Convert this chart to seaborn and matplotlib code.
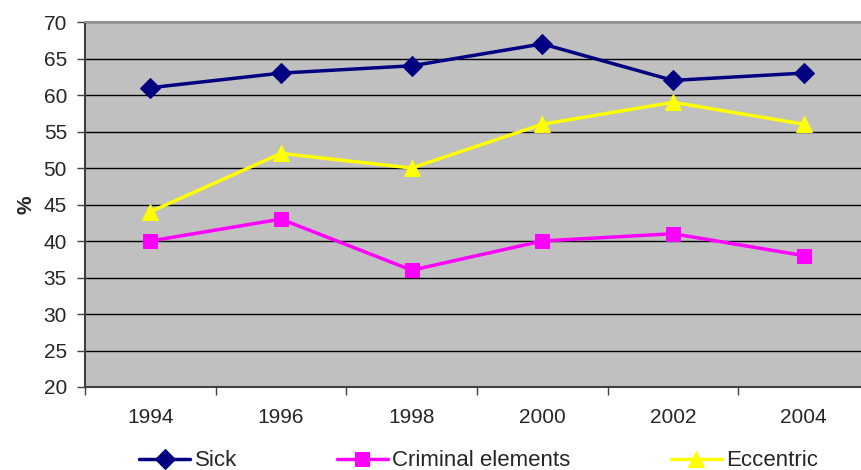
import pandas as pd
import seaborn as sns
import matplotlib.pyplot as plt
from matplotlib.ticker import FixedLocator

years = ["1994", "1996", "1998", "2000", "2002", "2004"]
sick = [61, 63, 64, 67, 62, 63]
criminal = [40, 43, 36, 40, 41, 38]
eccentric = [44, 52, 50, 56, 59, 56]

series_names = ["Sick", "Criminal elements", "Eccentric"]
colors = {"Sick": "#000080", "Criminal elements": "#FF00FF", "Eccentric": "#FFFF00"}
markers = {"Sick": "D", "Criminal elements": "s", "Eccentric": "^"}
msizes = {"Sick": 10, "Criminal elements": 10, "Eccentric": 12}

TICK_FONT = 15
LEGEND_FONT = 16

rows = []
for name, vals in zip(series_names, [sick, criminal, eccentric]):
    for i, v in enumerate(vals):
        rows.append({"pos": i, "value": v, "series": name})
data = pd.DataFrame(rows)

sns.set_style("white")
plt.rcParams["font.family"] = ["Liberation Sans", "DejaVu Sans"]

fig = plt.figure(figsize=(8.61, 4.70), dpi=100)
ax = fig.add_axes([85 / 861, 1 - 387 / 470, 784 / 861, 365 / 470])
ax.set_facecolor("#C0C0C0")

for name in series_names:
    sub = data[data["series"] == name]
    sns.lineplot(x="pos", y="value", data=sub, ax=ax, color=colors[name],
                 marker=markers[name], markersize=msizes[name],
                 markeredgecolor=colors[name], linewidth=2.5, label=name)

ax.set_xlim(-0.5, 5.5)
ax.set_ylim(20, 70)
ax.set_yticks(range(20, 71, 5))
ax.set_xticks(range(len(years)))
ax.set_xticklabels(years)
ax.xaxis.set_minor_locator(FixedLocator([i - 0.5 for i in range(len(years) + 1)]))
ax.tick_params(axis="x", which="major", length=0, pad=15, labelsize=TICK_FONT)
ax.tick_params(axis="x", which="minor", length=6, width=1, color="#404040", direction="out", bottom=True)
ax.tick_params(axis="y", length=6, width=1, color="#404040", direction="out", left=True,
               labelsize=TICK_FONT, pad=7)

ax.yaxis.grid(True, color="black", linewidth=1)
ax.set_axisbelow(True)
for s in ["left", "bottom"]:
    ax.spines[s].set_color("#404040")
    ax.spines[s].set_linewidth(1.5)
ax.spines["top"].set_color("#909090")
ax.spines["top"].set_linewidth(1.5)
ax.spines["right"].set_visible(False)

ax.set_xlabel("")
ax.set_ylabel("%", fontsize=TICK_FONT, fontweight="bold", labelpad=6)

handles, labels = ax.get_legend_handles_labels()
ax.legend(handles, labels, loc="center left", bbox_to_anchor=((119 - 85) / 784, (387 - 461) / 365),
          ncol=3, frameon=False, fontsize=LEGEND_FONT, columnspacing=4.5, handlelength=2.3,
          handletextpad=0.2)

plt.savefig("out.png", dpi=100)
